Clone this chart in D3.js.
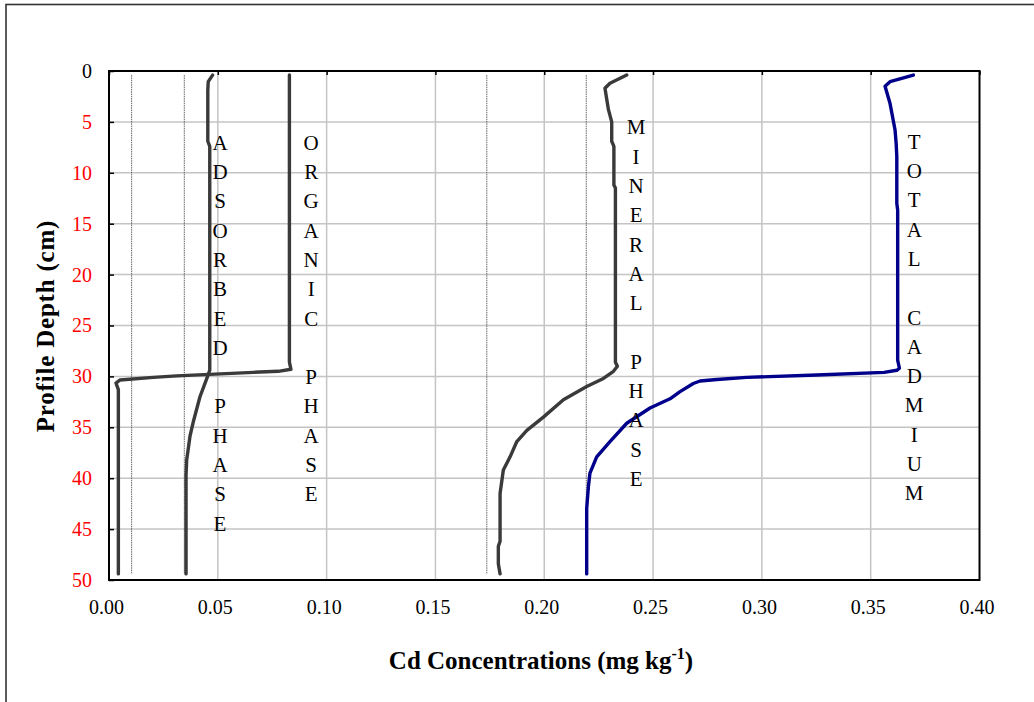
<!DOCTYPE html>
<html>
<head>
<meta charset="utf-8">
<script src="https://cdn.jsdelivr.net/npm/d3@7"></script>
<style>
  html, body { margin: 0; padding: 0; background: #fff; }
  svg { display: block; }
  text { font-family: "Liberation Serif", "Times New Roman", serif; }
</style>
</head>
<body>
<svg id="chart" width="1034" height="702"></svg>
<script>
// ---- data ----
const xTicks = [0, 0.05, 0.10, 0.15, 0.20, 0.25, 0.30, 0.35, 0.40];
const yTicks = [0, 5, 10, 15, 20, 25, 30, 35, 40, 45, 50];

const depthAdsorbed = [0.4, 1.05, 1.9, 6.9, 7.4, 29.4, 30.0, 32.0, 34.4, 35.9, 37.6, 38.2, 39.7, 49.4];
const adsorbed      = [0.0476, 0.0456, 0.0454, 0.0454, 0.0463, 0.0463, 0.0453, 0.0418, 0.0388, 0.0372, 0.0361, 0.0357, 0.0354, 0.0354];

const depthOrganic = [0.4, 28.6, 29.3, 29.5, 29.6, 29.95, 30.1, 30.35, 30.65, 31.3, 49.4];
const organic      = [0.0829, 0.0829, 0.0836, 0.0778, 0.0663, 0.0311, 0.0204, 0.0051, 0.0032, 0.0043, 0.0043];

const depthMineral = [0.4, 1.2, 1.7, 3.8, 5.0, 6.9, 7.4, 11.2, 11.5, 28.6, 29.0, 29.5, 30.2, 31.0, 32.3, 34.0, 35.3, 36.4, 37.9, 39.2, 41.5, 46.2, 46.7, 48.4, 49.4];
const mineral      = [0.2379, 0.2302, 0.2279, 0.2295, 0.2310, 0.2310, 0.2320, 0.2320, 0.2327, 0.2327, 0.2336, 0.2318, 0.2272, 0.2195, 0.2088, 0.1996, 0.1920, 0.1874, 0.1843, 0.1812, 0.1797, 0.1797, 0.1789, 0.1789, 0.1797];

const depthTotal = [0.4, 1.05, 1.5, 3.2, 5.8, 7.1, 8.4, 13.0, 13.65, 28.4, 29.2, 29.4, 29.6, 29.86, 30.1, 30.3, 30.45, 30.7, 31.5, 32.2, 33.1, 34.6, 36.4, 37.9, 39.5, 40.8, 43.0, 49.4];
const total      = [0.3696, 0.3589, 0.3566, 0.3589, 0.3612, 0.3617, 0.3620, 0.3620, 0.3624, 0.3624, 0.3632, 0.3620, 0.3562, 0.3252, 0.2930, 0.2793, 0.2716, 0.2685, 0.2624, 0.2578, 0.2486, 0.2379, 0.2302, 0.2241, 0.2210, 0.2203, 0.2195, 0.2195];

// thin reference lines (bottom concentrations)
const refValues = [0.0104, 0.0346, 0.1736, 0.2193];
const refDepths = [0.4, 49.4];

// vertical phase labels, anchored in data space (value, depth of first letter)
const labelTexts  = ["ADSORBED PHASE", "ORGANIC PHASE", "MINERAL PHASE", "TOTAL CADMIUM"];
const labelValues = [0.0510, 0.0929, 0.2422, 0.3700];
const labelDepths = [7.05, 7.05, 5.55, 6.95];

// ---- layout ----
const svg = d3.select("#chart");
const x = d3.scaleLinear().domain([0, 0.4]).range([109, 979.5]);
const y = d3.scaleLinear().domain([0, 50]).range([71, 580]);

// outer frame
svg.append("rect").attr("x", 6).attr("y", 4.5).attr("width", 1100).attr("height", 800)
  .attr("fill", "none").attr("stroke", "#333").attr("stroke-width", 1.6);

// gridlines
const grid = svg.append("g");
grid.selectAll("line.v").data(xTicks.slice(1, -1)).enter().append("line")
  .attr("x1", d => x(d)).attr("x2", d => x(d)).attr("y1", y(0)).attr("y2", y(50))
  .attr("stroke", "#c4c4c4").attr("stroke-width", 1.5);
grid.selectAll("line.h").data(yTicks.slice(1, -1)).enter().append("line")
  .attr("x1", x(0)).attr("x2", x(0.4)).attr("y1", d => y(d)).attr("y2", d => y(d))
  .attr("stroke", "#c4c4c4").attr("stroke-width", 1.5);

// reference lines
grid.selectAll("line.r").data(refValues).enter().append("line")
  .attr("x1", d => x(d)).attr("x2", d => x(d))
  .attr("y1", y(refDepths[0])).attr("y2", y(refDepths[1]))
  .attr("stroke", "#555").attr("stroke-width", 0.9).attr("stroke-dasharray", "1.5,0.8");

// series
const line = d3.line().x(d => x(d[0])).y(d => y(d[1]));
const series = [
  { v: adsorbed, d: depthAdsorbed, c: "#3a3a3a" },
  { v: organic, d: depthOrganic, c: "#3a3a3a" },
  { v: mineral, d: depthMineral, c: "#3a3a3a" },
  { v: total, d: depthTotal, c: "#00008b" }
];
series.forEach(s => {
  svg.append("path").datum(s.v.map((v, i) => [v, s.d[i]]))
    .attr("d", line).attr("fill", "none").attr("stroke", s.c)
    .attr("stroke-width", 3.4).attr("stroke-linejoin", "round").attr("stroke-linecap", "round");
});

// plot border
svg.append("rect").attr("x", x(0)).attr("y", y(0)).attr("width", x(0.4) - x(0)).attr("height", y(50) - y(0))
  .attr("fill", "none").attr("stroke", "#000").attr("stroke-width", 2);

// top inner ticks
svg.append("g").attr("transform", `translate(0,${y(0)})`)
  .call(d3.axisTop(x).tickValues(xTicks).tickSize(-4).tickFormat(""))
  .call(g => g.select(".domain").remove())
  .call(g => g.selectAll("line").attr("stroke", "#000").attr("stroke-width", 1.5));

// bottom axis
svg.append("g").attr("transform", `translate(-3,${y(50)})`)
  .call(d3.axisBottom(x).tickValues(xTicks).tickSize(0).tickPadding(34).tickFormat(d3.format(".2f")))
  .call(g => g.select(".domain").remove())
  .call(g => g.selectAll("text").attr("font-size", 20).attr("fill", "#000").attr("dy", "0"));

// left axis
svg.append("g").attr("transform", `translate(${x(0)},0)`)
  .call(d3.axisLeft(y).tickValues(yTicks).tickSizeInner(-5).tickSizeOuter(0).tickPadding(17).tickFormat(d3.format("d")))
  .call(g => g.select(".domain").remove())
  .call(g => g.selectAll("line").attr("stroke", "#000").attr("stroke-width", 1.5))
  .call(g => g.selectAll("text").attr("font-size", 20)
    .attr("fill", d => d === 0 ? "#000" : "#ff0000"));

// axis titles
svg.append("text").attr("transform", "translate(54,326) rotate(-90)")
  .attr("text-anchor", "middle").attr("font-size", 25).attr("font-weight", "bold")
  .attr("letter-spacing", 0.8)
  .text("Profile Depth (cm)");

const xt = svg.append("text").attr("x", 541).attr("y", 669)
  .attr("text-anchor", "middle").attr("font-size", 25).attr("font-weight", "bold");
xt.append("tspan").text("Cd Concentrations (mg kg");
xt.append("tspan").attr("font-size", 16).attr("dy", -10).text("-1");
xt.append("tspan").attr("dy", 10).text(")");

// phase labels (stacked letters)
const letterStep = 29.3;
labelTexts.forEach((t, k) => {
  const g = svg.append("g");
  t.split("").forEach((ch, i) => {
    if (ch === " ") return;
    g.append("text").attr("x", x(labelValues[k])).attr("y", y(labelDepths[k]) + i * letterStep)
      .attr("text-anchor", "middle").attr("dominant-baseline", "central")
      .attr("font-size", 21).attr("fill", "#000").text(ch);
  });
});
</script>
</body>
</html>
